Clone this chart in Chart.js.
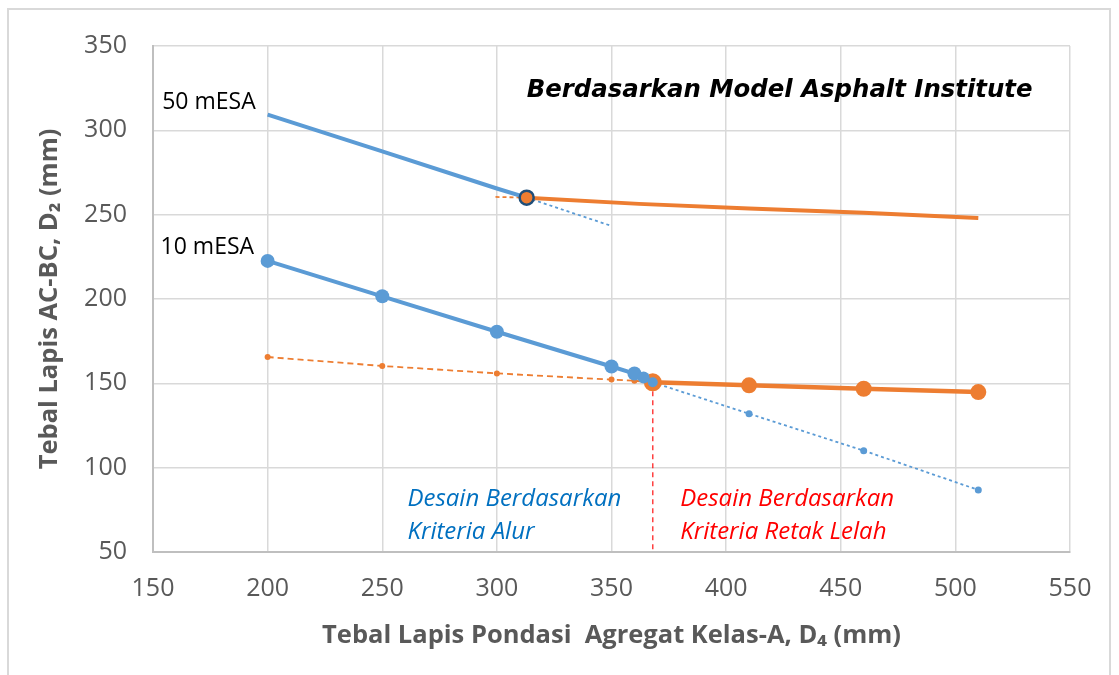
<!DOCTYPE html>
<html>
<head>
<meta charset="utf-8">
<script src="https://cdn.jsdelivr.net/npm/chart.js@4.4.0/dist/chart.umd.min.js"></script>
<style>
  body { margin: 0; background: #fff; }
  #wrap { position: relative; width: 1119px; height: 675px; }
  #frame { position: absolute; left: 7px; top: 8px; width: 1100px; height: 680px; border: 2px solid #d9d9d9; }
  canvas { position: absolute; left: 0; top: 0; }
</style>
</head>
<body>
<div id="wrap">
  <div id="frame"></div>
  <canvas id="chart" width="1119" height="675"></canvas>
</div>
<script>
// tick labels
var xTicks = [150, 200, 250, 300, 350, 400, 450, 500, 550];
var yTicks = [50, 100, 150, 200, 250, 300, 350];

// 50 mESA, rutting criterion (blue) and fatigue criterion (orange)
var x50Alur = [200, 250, 300, 313];
var y50Alur = [309.3, 287.5, 265.5, 260.1];
var x50AlurExt = [313, 350];
var y50AlurExt = [260.1, 243.3];
var x50RetakExt = [299.4, 313];
var y50RetakExt = [260.5, 260.1];
var x50Retak = [313, 362, 410, 460, 510];
var y50Retak = [260.1, 256.4, 253.7, 251.1, 248.0];
var x50Desain = [313];
var y50Desain = [260.1];

// 10 mESA
var x10Alur = [200, 250, 300, 350, 360, 364, 368];
var y10Alur = [222.6, 201.6, 180.6, 160.0, 155.8, 153.5, 150.6];
var x10AlurExt = [368, 410, 460, 510];
var y10AlurExt = [150.6, 132.0, 110.1, 86.8];
var x10RetakExt = [200, 250, 300, 350, 360, 368];
var y10RetakExt = [165.6, 160.3, 155.9, 152.2, 151.5, 150.6];
var x10Retak = [368, 410, 460, 510];
var y10Retak = [150.6, 148.8, 146.8, 144.8];

// design limit line
var xBatas = [368, 368];
var yBatas = [150.6, 50];

function pts(xs, ys) {
  var out = [];
  for (var i = 0; i < xs.length; i++) out.push({ x: xs[i], y: ys[i] });
  return out;
}

var BLUE = '#5b9bd5';
var ORANGE = '#ed7d31';
var GREY = '#595959';
var FONT = '"Open Sans", "Noto Sans", sans-serif';

// text notes placed in data units
var notes = [
  { text: '50 mESA', x: 154, y: 316.6, color: '#000', font: '23px ' + FONT },
  { text: '10 mESA', x: 153.3, y: 230.6, color: '#000', font: '23px ' + FONT },
  { text: 'Berdasarkan Model Asphalt Institute', x: 313, y: 323.7, color: '#000', font: 'bold italic 24.4px "DejaVu Sans", sans-serif' },
  { text: 'Desain Berdasarkan', x: 261, y: 81.5, color: '#0070c0', font: 'italic 24px ' + FONT },
  { text: 'Kriteria Alur', x: 261, y: 61.6, color: '#0070c0', font: 'italic 24px ' + FONT },
  { text: 'Desain Berdasarkan', x: 380, y: 81.5, color: '#ff0000', font: 'italic 24px ' + FONT },
  { text: 'Kriteria Retak Lelah', x: 380, y: 61.6, color: '#ff0000', font: 'italic 24px ' + FONT }
];

var notesPlugin = {
  id: 'notes',
  afterDatasetsDraw: function (chart) {
    var ctx = chart.ctx;
    var sx = chart.scales.x, sy = chart.scales.y;
    ctx.save();
    ctx.textAlign = 'left';
    ctx.textBaseline = 'middle';
    notes.forEach(function (n) {
      ctx.font = n.font;
      ctx.fillStyle = n.color;
      ctx.fillText(n.text, sx.getPixelForValue(n.x), sy.getPixelForValue(n.y));
    });
    ctx.restore();
  }
};

var ctx = document.getElementById('chart');
new Chart(ctx, {
  type: 'line',
  data: {
    datasets: [
      {
        label: 'Desain 50 mESA',
        data: pts(x50Desain, y50Desain),
        showLine: false,
        pointRadius: 7,
        pointBackgroundColor: ORANGE,
        pointBorderColor: '#1f4e79',
        pointBorderWidth: 2.5,
        order: 0
      },
      {
        label: '10 mESA Alur',
        data: pts(x10Alur, y10Alur),
        borderColor: BLUE,
        borderWidth: 4,
        pointRadius: [7, 7, 7, 7, 7, 6, 5],
        pointBackgroundColor: BLUE,
        pointBorderWidth: 0,
        order: 1
      },
      {
        label: '10 mESA Retak',
        data: pts(x10Retak, y10Retak),
        borderColor: ORANGE,
        borderWidth: 4.5,
        pointRadius: [9, 8, 8, 8],
        pointBackgroundColor: ORANGE,
        pointBorderWidth: 0,
        order: 2
      },
      {
        label: '50 mESA Alur',
        data: pts(x50Alur, y50Alur),
        borderColor: BLUE,
        borderWidth: 4,
        pointRadius: 0,
        order: 3
      },
      {
        label: '50 mESA Retak',
        data: pts(x50Retak, y50Retak),
        borderColor: ORANGE,
        borderWidth: 4,
        pointRadius: 0,
        order: 4
      },
      {
        label: 'Batas',
        data: pts(xBatas, yBatas),
        borderColor: 'rgba(255,0,0,0.75)',
        borderWidth: 1.5,
        borderDash: [5, 4],
        pointRadius: 0,
        order: 5
      },
      {
        label: '10 mESA Alur ext',
        data: pts(x10AlurExt, y10AlurExt),
        borderColor: BLUE,
        borderWidth: 1.8,
        borderDash: [3, 3],
        pointRadius: [0, 3.5, 3.5, 3.5],
        pointBackgroundColor: BLUE,
        pointBorderWidth: 0,
        order: 6
      },
      {
        label: '10 mESA Retak ext',
        data: pts(x10RetakExt, y10RetakExt),
        borderColor: ORANGE,
        borderWidth: 1.8,
        borderDash: [6, 4],
        pointRadius: [3, 3, 3, 3, 3, 0],
        pointBackgroundColor: ORANGE,
        pointBorderWidth: 0,
        order: 7
      },
      {
        label: '50 mESA Alur ext',
        data: pts(x50AlurExt, y50AlurExt),
        borderColor: BLUE,
        borderWidth: 1.8,
        borderDash: [3, 3],
        pointRadius: 0,
        order: 8
      },
      {
        label: '50 mESA Retak ext',
        data: pts(x50RetakExt, y50RetakExt),
        borderColor: ORANGE,
        borderWidth: 1.8,
        borderDash: [4, 3],
        pointRadius: 0,
        order: 9
      }
    ]
  },
  options: {
    responsive: false,
    animation: false,
    layout: { padding: { top: 46, right: 49, left: 0, bottom: 0 } },
    plugins: {
      legend: { display: false },
      tooltip: { enabled: false }
    },
    scales: {
      x: {
        type: 'linear',
        min: xTicks[0],
        max: xTicks[xTicks.length - 1],
        afterBuildTicks: function (scale) {
          scale.ticks = xTicks.map(function (v) { return { value: v }; });
        },
        afterFit: function (scale) { scale.height = 123; },
        grid: { color: '#d9d9d9', lineWidth: 1.5, drawTicks: false },
        border: { color: '#bfbfbf', width: 2 },
        ticks: { color: GREY, padding: 22, font: { family: FONT, size: 25 } },
        title: {
          display: true,
          text: 'Tebal Lapis Pondasi  Agregat Kelas-A, D\u2084 (mm)',
          color: GREY,
          font: { family: FONT, size: 25.5, weight: 'bold' },
          padding: { top: 0, bottom: 24 }
        }
      },
      y: {
        type: 'linear',
        min: yTicks[0],
        max: yTicks[yTicks.length - 1],
        afterBuildTicks: function (scale) {
          scale.ticks = yTicks.map(function (v) { return { value: v }; });
        },
        afterFit: function (scale) { scale.width = 153; },
        grid: { color: '#d9d9d9', lineWidth: 1.5, drawTicks: false },
        border: { color: '#bfbfbf', width: 2 },
        ticks: { color: GREY, padding: 26, font: { family: FONT, size: 25 } },
        title: {
          display: true,
          text: 'Tebal Lapis AC-BC, D\u2082 (mm)',
          color: GREY,
          font: { family: FONT, size: 25.5, weight: 'bold' },
          padding: { top: 34, bottom: 0 }
        }
      }
    }
  },
  plugins: [notesPlugin]
});
</script>
</body>
</html>
